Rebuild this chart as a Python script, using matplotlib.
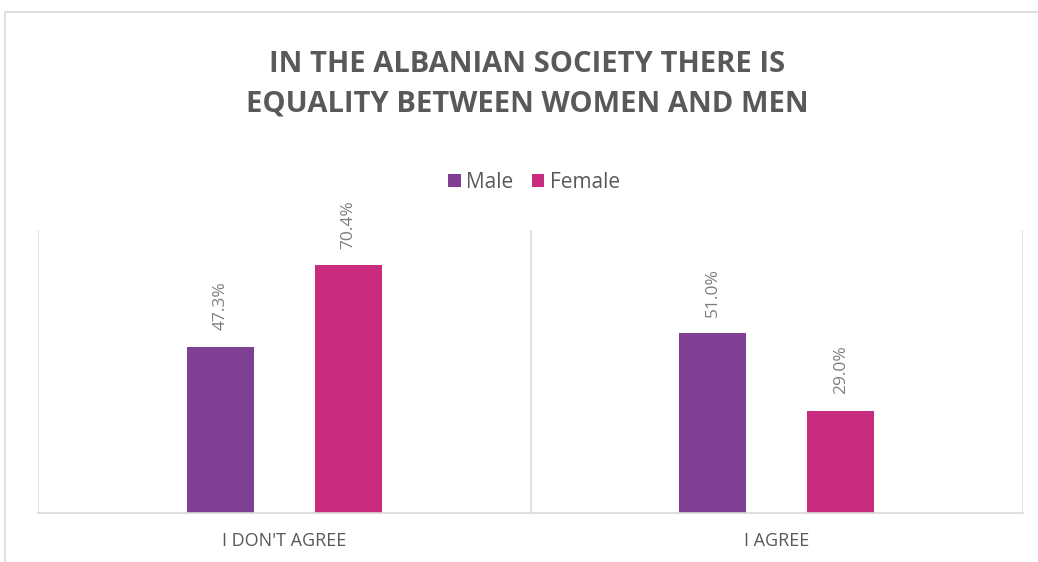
import numpy as np
import matplotlib.pyplot as plt
from matplotlib.patches import Rectangle

plt.rcParams['font.family'] = ['Open Sans', 'DejaVu Sans']

categories = ["I DON'T AGREE", "I AGREE"]
male = [47.3, 51.0]
female = [70.4, 29.0]
series_names = ['Male', 'Female']
colors = ['#7F3F93', '#C92C7E']

fig = plt.figure(figsize=(10.38, 5.62), dpi=100)
# outer border of the chart area
fig.patches.append(Rectangle((5 / 1038, -0.05), 1.2, (562 - 12) / 562 + 0.05, transform=fig.transFigure,
                             fill=False, edgecolor='#d9d9d9', linewidth=1.2, clip_on=False))

ax = fig.add_axes([38 / 1038, 49 / 562, 985 / 1038, 283 / 562])
x = np.arange(len(categories))
w = 0.136
off = 0.13
b1 = ax.bar(x - off, male, w, color=colors[0], label=series_names[0])
b2 = ax.bar(x + off, female, w, color=colors[1], label=series_names[1])

for bars in (b1, b2):
    for r in bars:
        ax.annotate(f'{r.get_height():.1f}%', (r.get_x() + r.get_width() / 2, r.get_height()),
                    xytext=(0, 12), textcoords='offset points', rotation=90,
                    ha='center', va='bottom', fontsize=12.5, color='#7f7f7f')

ax.set_xlim(-0.5, 1.5)
ax.set_ylim(0, 80.4)
ax.set_yticks([])
ax.set_xticks(x)
ax.set_xticklabels(categories, fontsize=13, color='#595959')
ax.tick_params(axis='x', length=0, pad=14)
for b in [-0.5, 0.5, 1.5]:
    ax.axvline(b, color='#d9d9d9', linewidth=1.2, zorder=0)
for s in ['top', 'left', 'right']:
    ax.spines[s].set_visible(False)
ax.spines['bottom'].set_color('#d9d9d9')
ax.spines['bottom'].set_linewidth(1.2)

fig.text(527 / 1038, 1 - 84 / 562, 'IN THE ALBANIAN SOCIETY THERE IS\nEQUALITY BETWEEN WOMEN AND MEN',
         ha='center', va='center', fontsize=21, fontweight='bold', color='#595959', linespacing=1.5)

fig.legend(handles=[b1, b2], labels=series_names, loc='center', bbox_to_anchor=(534 / 1038, 1 - 182 / 562),
           ncol=2, frameon=False, fontsize=15, handlelength=0.6, handleheight=0.6,
           handletextpad=0.25, columnspacing=0.9, labelcolor='#595959')

fig.savefig('out.png', dpi=100)
